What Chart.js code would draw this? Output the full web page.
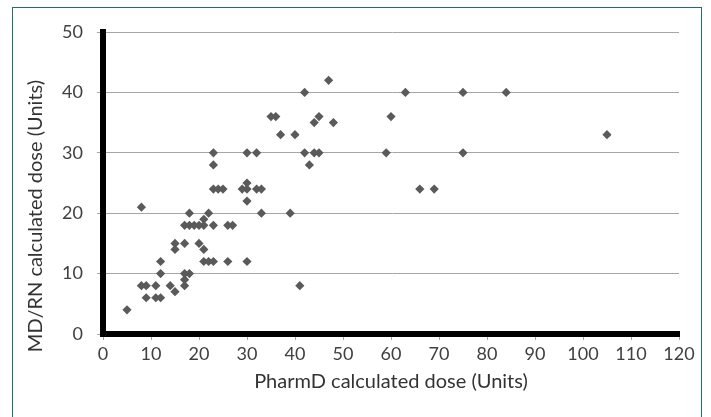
<!DOCTYPE html>
<html>
<head>
<meta charset="utf-8">
<script src="https://cdn.jsdelivr.net/npm/chart.js@4.4.1/dist/chart.umd.min.js"></script>
<style>
  html, body { margin: 0; padding: 0; background: #fff; }
  #wrap { position: relative; width: 711px; height: 417px; overflow: hidden; }
  #frame { position: absolute; left: 12px; top: 7px; width: 690px; height: 430px; border: 1.5px solid #1f6f6c; box-sizing: border-box; }
  canvas { position: absolute; left: 0; top: 0; }
</style>
</head>
<body>
<div id="wrap">
  <div id="frame"></div>
  <canvas id="c" width="711" height="417"></canvas>
</div>
<script>
// PharmD calculated dose (x) vs MD/RN calculated dose (y), Units
const pharmdDose = [5, 8, 8, 9, 9, 11, 11, 12, 12, 12, 14, 15, 15, 15, 17, 17, 18, 17, 17,
  17, 18, 19, 20, 21, 18, 20, 21, 21, 22, 21, 22, 23, 23, 23, 23, 24, 25, 23, 26, 26, 27,
  29, 30, 30, 30, 30, 30, 32, 32, 33, 33, 35, 36, 37, 39, 40, 41, 42, 42, 43, 44, 45, 44, 45,
  47, 48, 59, 60, 63, 66, 69, 75, 75, 84, 105];
const mdrnDose = [4, 21, 8, 8, 6, 8, 6, 6, 12, 10, 8, 7, 15, 14, 15, 10, 10, 9, 8,
  18, 18, 18, 18, 18, 20, 15, 14, 19, 20, 12, 12, 12, 30, 28, 24, 24, 24, 18, 12, 18, 18,
  24, 24, 25, 22, 30, 12, 30, 24, 24, 20, 36, 36, 33, 20, 33, 8, 40, 30, 28, 35, 36, 30, 30,
  42, 35, 30, 36, 40, 24, 24, 40, 30, 40, 33];
const xTicks = [0, 10, 20, 30, 40, 50, 60, 70, 80, 90, 100, 110, 120];
const yTicks = [0, 10, 20, 30, 40, 50];
const xTitle = 'PharmD calculated dose (Units)';
const yTitle = 'MD/RN calculated dose (Units)';

const points = pharmdDose.map((x, i) => ({ x: x, y: mdrnDose[i] }));
const FONT = "Lato, 'Liberation Sans', sans-serif";

// y-axis title, placed like the original (centred a bit below the plot centre)
const yTitlePlugin = {
  id: 'yTitle',
  afterDraw(chart) {
    const ctx = chart.ctx;
    ctx.save();
    ctx.translate(36, 216);
    ctx.rotate(-Math.PI / 2);
    ctx.fillStyle = '#333';
    ctx.font = "20px " + FONT;
    ctx.textAlign = 'center';
    ctx.textBaseline = 'middle';
    ctx.fillText(yTitle, 0, 0);
    ctx.restore();
  }
};

new Chart(document.getElementById('c'), {
  type: 'scatter',
  data: {
    datasets: [{
      data: points,
      pointStyle: 'rectRot',
      pointRadius: 4.6,
      pointBackgroundColor: '#5a5a5a',
      pointBorderColor: '#5a5a5a',
      pointBorderWidth: 0
    }]
  },
  plugins: [yTitlePlugin],
  options: {
    responsive: false,
    animation: false,
    events: [],
    layout: { padding: { left: 14, right: 32, top: 32, bottom: 14 } },
    plugins: { legend: { display: false }, tooltip: { enabled: false } },
    scales: {
      x: {
        type: 'linear',
        min: xTicks[0],
        max: xTicks[xTicks.length - 1],
        afterBuildTicks: s => { s.ticks = xTicks.map(v => ({ value: v })); },
        afterFit: s => { s.height = 417 - 334 - 14; },
        ticks: { color: '#404040', font: { family: FONT, size: 18 }, padding: 3, maxRotation: 0, autoSkip: false },
        grid: { drawOnChartArea: false, tickLength: 6, color: '#a6a6a6' },
        border: { color: '#000', width: 6 },
        title: { display: true, text: xTitle, color: '#333', font: { family: FONT, size: 20 }, padding: { top: 4, bottom: 9 } }
      },
      y: {
        min: yTicks[0],
        max: yTicks[yTicks.length - 1],
        afterBuildTicks: s => { s.ticks = yTicks.map(v => ({ value: v })); },
        afterFit: s => { s.width = 103 - 14; },
        ticks: { color: '#404040', font: { family: FONT, size: 18 }, padding: 14 },
        grid: { tickLength: 6, color: '#a6a6a6' },
        border: { color: '#000', width: 6 },
        title: { display: false }
      }
    }
  }
});
</script>
</body>
</html>
